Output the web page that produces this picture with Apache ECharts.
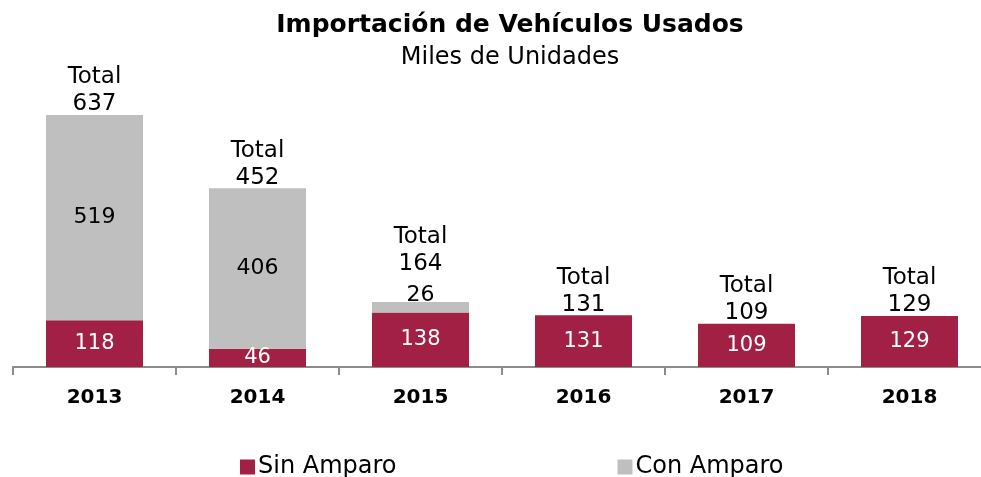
<!DOCTYPE html>
<html>
<head>
<meta charset="utf-8">
<script src="https://cdn.jsdelivr.net/npm/echarts@6/dist/echarts.min.js"></script>
<style>
  html, body { margin: 0; padding: 0; background: #fff; }
  #chart { width: 981px; height: 477px; }
</style>
</head>
<body>
<div id="chart"></div>
<script>
var years = ['2013', '2014', '2015', '2016', '2017', '2018']
var sinAmparo = [118, 46, 138, 131, 109, 129]
var conAmparo = [519, 406, 26, 0, 0, 0]
var totals = [637, 452, 164, 131, 109, 129]

var FONT = 'DejaVu Sans'
var RED = '#A32045'
var GRAY = '#BFBFBF'

var chart = echarts.init(document.getElementById('chart'))

var conData = conAmparo.map(function (v, i) {
  var item = { value: v }
  if (v === 0) {
    item.label = { show: false }
  } else if (v < 50) {
    // small segment: label sits just above it
    item.label = { position: 'top', distance: -4 }
  }
  return item
})

var totalData = totals.map(function (v, i) {
  var item = { value: 0 }
  if (conAmparo[i] > 0 && conAmparo[i] < 50) {
    item.label = { offset: [0, -28] }
  }
  return item
})

var option = {
  animation: false,
  textStyle: { fontFamily: FONT },
  title: [
    {
      text: 'Importación de Vehículos Usados',
      left: 505,
      top: 8,
      textAlign: 'center',
      textStyle: { fontFamily: FONT, fontSize: 25, fontWeight: 'bold', color: '#000' }
    },
    {
      text: 'Miles de Unidades',
      left: 505,
      top: 41,
      textAlign: 'center',
      textStyle: { fontFamily: FONT, fontSize: 24, fontWeight: 'normal', color: '#000' }
    }
  ],
  legend: {
    data: ['Sin Amparo', 'Con Amparo'],
    top: 450,
    left: 235,
    itemWidth: 15,
    itemHeight: 15,
    itemGap: 221,
    icon: 'rect',
    textStyle: { fontFamily: FONT, fontSize: 24, color: '#000', padding: [0, 0, 0, -2] }
  },
  grid: {
    left: 13,
    width: 978,
    top: 90,
    bottom: 110,
    outerBoundsMode: 'none'
  },
  xAxis: {
    type: 'category',
    data: years,
    axisLine: { lineStyle: { color: '#8c8c8c', width: 2 } },
    axisTick: { show: true, length: 8, alignWithLabel: false, lineStyle: { color: '#8c8c8c', width: 2 } },
    axisLabel: { fontFamily: FONT, fontSize: 20, fontWeight: 'bold', color: '#000', margin: 21 }
  },
  yAxis: {
    type: 'value',
    min: 0,
    max: 700,
    show: false,
    splitLine: { show: false }
  },
  series: [
    {
      name: 'Sin Amparo',
      type: 'bar',
      stack: 'a',
      barWidth: 97,
      itemStyle: { color: RED },
      label: {
        show: true,
        position: 'inside',
        color: '#fff',
        fontFamily: FONT,
        fontSize: 21
      },
      data: sinAmparo
    },
    {
      name: 'Con Amparo',
      type: 'bar',
      stack: 'a',
      barWidth: 97,
      itemStyle: { color: GRAY },
      label: {
        show: true,
        position: 'inside',
        color: '#000',
        fontFamily: FONT,
        fontSize: 22
      },
      data: conData
    },
    {
      name: 'Total',
      type: 'bar',
      stack: 'a',
      barWidth: 97,
      itemStyle: { color: 'transparent' },
      label: {
        show: true,
        position: 'top',
        distance: -3,
        color: '#000',
        fontFamily: FONT,
        fontSize: 23,
        lineHeight: 27,
        formatter: function (p) {
          return 'Total\n' + totals[p.dataIndex]
        }
      },
      data: totalData
    }
  ]
}

chart.setOption(option)
</script>
</body>
</html>
